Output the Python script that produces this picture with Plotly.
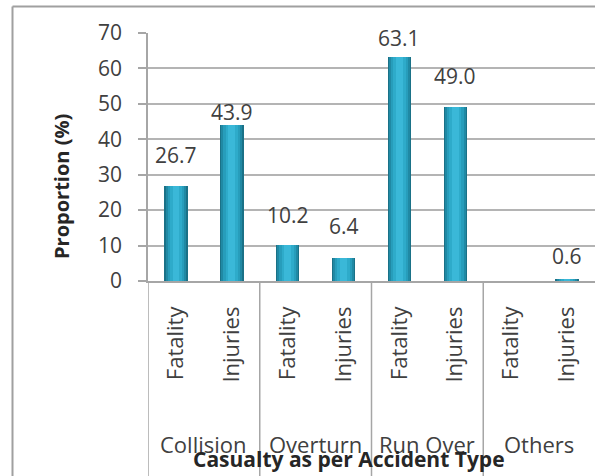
import plotly.graph_objects as go

# ---- data -------------------------------------------------------------
accident_types = ["Collision", "Overturn", "Run Over", "Others"]
casualty_kinds = ["Fatality", "Injuries"]
fatality_pct = [26.7, 10.2, 63.1, None]
injury_pct = [43.9, 6.4, 49.0, 0.6]
y_ticks = [0, 10, 20, 30, 40, 50, 60, 70]

# label lift above each bar top (px), Fatality/Injuries per group
label_gap_fatality = [19, 18, 7, 0]
label_gap_injuries = [1, 20, 19, 11]

# ---- geometry / style --------------------------------------------------
W, H = 595, 476
ML, MR, MT, MB = 148, 0, 33, 195
PW, PH = W - ML - MR, H - MT - MB
FONT = "Open Sans"
TXT = "#404040"
GRID = "#b4b4b4"
AXIS = "#a6a6a6"


def px_x(p):
    return (p - ML) / PW


def px_y(p):
    return (H - MB - p) / PH


# interleave the series into one flat category sequence
xs, vals, ticktext, gaps = [], [], [], []
i = 0
for g, name in enumerate(accident_types):
    for kind, series, gap in ((casualty_kinds[0], fatality_pct, label_gap_fatality),
                              (casualty_kinds[1], injury_pct, label_gap_injuries)):
        xs.append(i)
        vals.append(series[g])
        ticktext.append(kind)
        gaps.append(gap[g])
        i += 1

fig = go.Figure()

# cylinder shading: stacked overlays from the dark rim to the bright core
shading = [
    (0.42, "#1a7187"),
    (0.37, "#2089a4"),
    (0.30, "#279dbb"),
    (0.22, "#2eabca"),
    (0.12, "#3ab8d8"),
]
for width, color in shading:
    fig.add_trace(go.Bar(
        x=xs, y=vals, width=width,
        marker=dict(color=color, line=dict(width=0)),
        hoverinfo="skip", showlegend=False,
    ))

# value labels
for x, v, gap in zip(xs, vals, gaps):
    if v is None:
        continue
    fig.add_annotation(
        x=x, y=v, xref="x", yref="y", text=f"{v:.1f}",
        showarrow=False, yanchor="bottom", yshift=gap - 4,
        font=dict(family=FONT, size=21, color=TXT),
    )

# group labels under the rotated sub-category labels
for g, name in enumerate(accident_types):
    fig.add_annotation(
        x=2 * g + 0.5, y=px_y(444), xref="x", yref="paper",
        text=name, showarrow=False, yanchor="middle",
        font=dict(family=FONT, size=22, color=TXT),
    )

# axis titles
fig.add_annotation(
    x=px_x(349), y=px_y(459), xref="paper", yref="paper",
    text="<b>Casualty as per Accident Type</b>", showarrow=False,
    yanchor="middle", font=dict(family=FONT, size=21, color="#262626"),
)
fig.add_annotation(
    x=px_x(61), y=px_y(187), xref="paper", yref="paper",
    text="<b>Proportion (%)</b>", showarrow=False, textangle=-90,
    xanchor="center", yanchor="middle",
    font=dict(family=FONT, size=20, color="#262626"),
)

# group dividers running down through the category labels
for xd in (-0.5, 1.5, 3.5, 5.5):
    fig.add_shape(type="line", xref="x", yref="paper",
                  x0=xd, x1=xd, y0=0, y1=px_y(H + 5),
                  line=dict(color=AXIS, width=1.5))

# outer chart frame
fx, fy = px_x(12.5), px_y(6.5)
fig.add_shape(type="line", xref="paper", yref="paper",
              x0=fx, x1=fx, y0=px_y(H + 5), y1=fy,
              line=dict(color="#a0a0a0", width=2))
fig.add_shape(type="line", xref="paper", yref="paper",
              x0=fx, x1=px_x(W + 5), y0=fy, y1=fy,
              line=dict(color="#a0a0a0", width=2))

fig.update_layout(
    width=W, height=H,
    margin=dict(l=ML, r=MR, t=MT, b=MB, pad=0),
    paper_bgcolor="white", plot_bgcolor="white",
    barmode="overlay", bargap=0, showlegend=False,
    font=dict(family=FONT, color=TXT),
    xaxis=dict(
        range=[-0.5, 7.5], tickmode="array", tickvals=xs, ticktext=ticktext,
        tickangle=-90, ticks="", showgrid=False, zeroline=False,
        showline=True, linecolor=AXIS, linewidth=1.5,
        tickfont=dict(family=FONT, size=22, color=TXT),
        ticklabelstandoff=15,
    ),
    yaxis=dict(
        range=[0, 70], tickmode="array", tickvals=y_ticks,
        showgrid=True, gridcolor=GRID, gridwidth=1.5, zeroline=False,
        showline=True, linecolor=AXIS, linewidth=1.5,
        ticks="outside", ticklen=8, tickcolor=AXIS, tickwidth=1.5,
        tickfont=dict(family=FONT, size=21, color=TXT),
        ticklabelstandoff=12,
    ),
)

fig.write_html("out.html")
